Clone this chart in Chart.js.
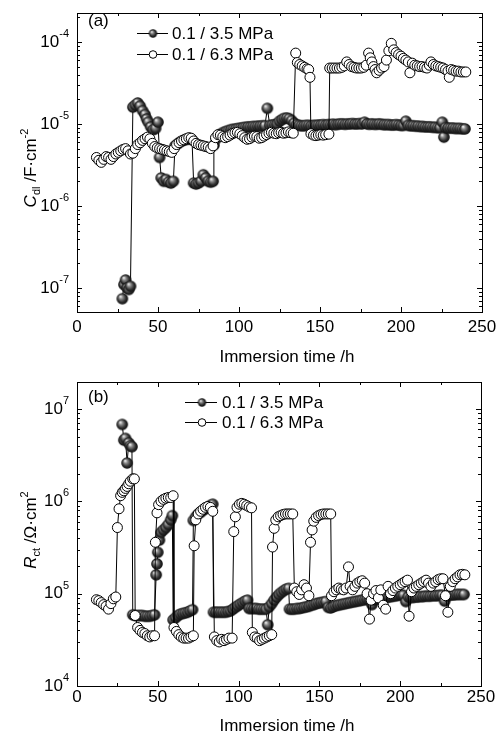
<!DOCTYPE html>
<html>
<head>
<meta charset="utf-8">
<script src="https://cdn.jsdelivr.net/npm/chart.js@4.4.1/dist/chart.umd.min.js"></script>
<style>
  body { margin: 0; background: #fff; }
  #top { position: absolute; left: 0; top: 0; width: 496px; height: 370px; }
  #bot { position: absolute; left: 0; top: 370px; width: 496px; height: 363px; }
</style>
</head>
<body>
<div id="top"><canvas id="cdl"></canvas></div>
<div id="bot"><canvas id="rct"></canvas></div>
<script>
// ---- data (time /h, value) ----
const seriesNames = ['0.1 / 3.5 MPa', '0.1 / 6.3 MPa'];
const xTicks = [0, 50, 100, 150, 200, 250];
const cdlDecades = [-7, -6, -5, -4];
const rctDecades = [4, 5, 6, 7];

// (a) C_dl, F·cm-2
const cdl35 = [[28,7.4e-8],[29,1.1e-7],[30,1.25e-7],[31,1.0e-7],[32,9.6e-8],[33,1.05e-7],
  [34.5,1.6e-5],[36,1.7e-5],[37.5,1.8e-5],[39,1.65e-5],[40.5,1.45e-5],[42,1.3e-5],[43,1.15e-5],[44,1.05e-5],[45.5,9.2e-6],[47,8.5e-6],[48.5,8.8e-6],[50,1.05e-5],
  [51,3.9e-6],[52,2.2e-6],[53.5,2.0e-6],[55,2.1e-6],[56.5,1.95e-6],[58,1.9e-6],[59.5,2.0e-6],
  [60.5,5.4e-6],[62,5.7e-6],[63.5,6.0e-6],[65,6.2e-6],[66.5,6.4e-6],[68,6.5e-6],[69.5,6.6e-6],[71,6.4e-6],
  [72,1.9e-6],[73.5,1.85e-6],[75,1.9e-6],[76.5,2.0e-6],[78,2.4e-6],[79.5,2.2e-6],[81,2.0e-6],[82.5,1.95e-6],[84,2.0e-6],
  [84.5,5.5e-6],[86,6.6e-6],[87.5,7.2e-6],[89,7.6e-6],[90.5,7.9e-6],[92,8.1e-6],[93.5,8.3e-6],[95,8.5e-6],[96.5,8.6e-6],[98,8.7e-6],[99.5,8.8e-6],[101,8.9e-6],[102.5,9.0e-6],[104,9.1e-6],[105.5,9.2e-6],[107,9.2e-6],[108.5,9.3e-6],[110,9.3e-6],[111.5,9.4e-6],[113,9.4e-6],[114.5,9.5e-6],[116,9.5e-6],[117.5,1.55e-5],[119,9.6e-6],[120.5,9.7e-6],[122,9.8e-6],[123.5,1.0e-5],[125,1.08e-5],[126.5,1.13e-5],[128,1.17e-5],[129.5,1.18e-5],[131,1.16e-5],[132.5,1.1e-5],[134,1.02e-5],[135.5,9.8e-6],[137,9.6e-6],[138.5,9.5e-6],[140,9.5e-6],[141.5,9.6e-6],[143,9.6e-6],[144.5,9.5e-6],[146,9.6e-6],[147.5,9.6e-6],[149,9.7e-6],[150.5,9.7e-6],[152,9.8e-6],[153.5,9.7e-6],[155,9.8e-6],[156.5,9.8e-6],[158,9.9e-6],[159.5,9.8e-6],[161,9.9e-6],[162.5,1.0e-5],[164,1.0e-5],[165.5,9.9e-6],[167,1.0e-5],[168.5,1.0e-5],[170,1.01e-5],[171.5,1.0e-5],[173,1.0e-5],[174.5,1.01e-5],[176,1.0e-5],[177.5,1.05e-5],[179,1.0e-5],[180.5,9.9e-6],[182,1.0e-5],[183.5,9.9e-6],[185,9.9e-6],[186.5,1.0e-5],[188,9.9e-6],[189.5,9.8e-6],[191,9.8e-6],[192.5,9.8e-6],[194,9.7e-6],[195.5,9.7e-6],[197,9.8e-6],[198.5,9.7e-6],[200,9.6e-6],[201.5,9.6e-6],[203,1.08e-5],[204.5,9.6e-6],[206,9.5e-6],[207.5,9.5e-6],[209,9.4e-6],[210.5,9.4e-6],[212,9.3e-6],[213.5,9.3e-6],[215,9.2e-6],[216.5,9.2e-6],[218,9.2e-6],[219.5,9.1e-6],[221,9.1e-6],[222.5,9.0e-6],[224,9.0e-6],[225.5,1.05e-5],[226.5,6.9e-6],[227.5,9.0e-6],[229,8.9e-6],[230.5,8.9e-6],[232,8.9e-6],[233.5,8.8e-6],[235,8.8e-6],[236.5,8.8e-6],[238,8.7e-6],[239.5,8.7e-6]];

const cdl63 = [[12,3.9e-6],[13.5,3.6e-6],[15,3.4e-6],[16.5,3.7e-6],[18,4.0e-6],[19.5,3.9e-6],[21,3.7e-6],[22.5,4.0e-6],[24,4.3e-6],[25.5,4.5e-6],[27,4.7e-6],[28.5,4.9e-6],[30,5.0e-6],[31.5,4.7e-6],[33,4.3e-6],[34.5,4.4e-6],[36,5.0e-6],[37.5,5.6e-6],[39,5.9e-6],[40.5,6.3e-6],[42,6.6e-6],[43.5,6.9e-6],[45,6.6e-6],[46.5,5.8e-6],[48,5.3e-6],[49.5,5.1e-6],[51,5.0e-6],[52.5,4.9e-6],[54,4.8e-6],[55.5,4.7e-6],[57,4.6e-6],[58.5,4.5e-6],[60,5.0e-6],[61.5,5.6e-6],[63,5.9e-6],[64.5,6.2e-6],[66,6.4e-6],[67.5,6.6e-6],[69,6.8e-6],[70.5,6.7e-6],[72,6.2e-6],[73.5,5.8e-6],[75,5.6e-6],[76.5,5.5e-6],[78,5.4e-6],[79.5,5.3e-6],[81,5.2e-6],[82.5,5.0e-6],[84,5.4e-6],[85.5,6.8e-6],[87,7.4e-6],[88.5,7.3e-6],[90,7.0e-6],[91.5,6.8e-6],[93,7.0e-6],[94.5,7.3e-6],[96,7.6e-6],[97.5,7.8e-6],[99,7.9e-6],[100.5,7.6e-6],[102,7.2e-6],[103.5,6.8e-6],[105,6.5e-6],[106.5,6.6e-6],[108,6.9e-6],[109.5,7.1e-6],[111,7.0e-6],[112.5,6.7e-6],[114,6.8e-6],[115.5,7.1e-6],[117,7.4e-6],[118.5,7.7e-6],[120,7.9e-6],[121.5,7.7e-6],[123,7.6e-6],[124.5,7.8e-6],[126,7.9e-6],[127.5,7.7e-6],[129,7.8e-6],[130.5,8.0e-6],[132,7.8e-6],[133.5,7.7e-6],
  [135,7.3e-5],[136,5.6e-5],[137.5,5.3e-5],[139,5.1e-5],[140.5,4.9e-5],[142,4.7e-5],[143,4.6e-5],[143.8,3.7e-5],
  [144.4,7.6e-6],[146,7.3e-6],[147.5,7.2e-6],[149,7.3e-6],[150.5,7.4e-6],[152,7.3e-6],[153.5,7.4e-6],[155.5,7.5e-6],
  [156,4.8e-5],[157.5,4.8e-5],[159,4.8e-5],[160.5,4.8e-5],[162,4.8e-5],[163.5,4.9e-5],[165,5.1e-5],[166.5,5.7e-5],[168,5.3e-5],[169.5,5.0e-5],[171,4.9e-5],[172.5,4.8e-5],[174,4.8e-5],[175.5,4.8e-5],[177,4.9e-5],[178.5,5.2e-5],[180,7.3e-5],[181,6.4e-5],[182,5.7e-5],[183,5.0e-5],[184,4.6e-5],[185,4.2e-5],[186.5,4.5e-5],[188,4.8e-5],[189.5,5.0e-5],[191,6.0e-5],[192.5,7.8e-5],[194,9.6e-5],[195.5,8.0e-5],[197,7.4e-5],[198.5,7.0e-5],[200,6.7e-5],[201.5,6.3e-5],[203,6.0e-5],[204.5,5.7e-5],[205.5,4.2e-5],[207,5.5e-5],[208.5,5.2e-5],[210,5.1e-5],[211.5,5.0e-5],[213,5.0e-5],[214.5,4.9e-5],[216,4.8e-5],[217.5,5.2e-5],[218.5,5.7e-5],[220,5.3e-5],[221.5,5.1e-5],[223,5.0e-5],[224.5,4.9e-5],[226,4.8e-5],[227.5,4.6e-5],[229,4.4e-5],[229.8,3.7e-5],[231,4.6e-5],[232.5,4.5e-5],[234,4.4e-5],[235.5,4.4e-5],[237,4.3e-5],[238.5,4.3e-5],[240,4.3e-5]];

// (b) R_ct, Ω·cm2
const rct35 = [[28,6.8e6],[29,4.6e6],[30,4.8e6],[31,2.6e6],[32,4.3e6],[33,4.0e6],[34,3.9e6],
  [34.5,5.9e4],[36,5.8e4],[37.5,5.8e4],[39,5.8e4],[40.5,5.8e4],[42,5.7e4],[43.5,5.7e4],[45,5.7e4],[46.5,5.8e4],[48,5.9e4],
  [49,1.6e5],[49.5,2.1e5],[50,2.8e5],[51,3.8e5],[52,4.6e5],[53.5,4.9e5],[55,5.2e5],[56.5,5.6e5],[58,6.3e5],[59,7.0e5],
  [59.5,5.2e4],[61,5.5e4],[62.5,5.8e4],[64,6.0e4],[65.5,6.1e4],[67,6.2e4],[68.5,6.3e4],[70,6.5e4],[71.5,6.7e4],
  [72,6.2e5],[73.5,6.8e5],[75,7.3e5],[76.5,7.6e5],[78,8.0e5],[79.5,8.3e5],[81,8.6e5],[82.5,9.0e5],[84,9.3e5],
  [84.5,6.3e4],[86,6.3e4],[87.5,6.3e4],[89,6.3e4],[90.5,6.3e4],[92,6.3e4],[93.5,6.4e4],[95,6.5e4],[96.5,6.8e4],[98,7.1e4],[99.5,7.4e4],[101,7.7e4],[102.5,8.0e4],[104,8.3e4],[105.5,8.5e4],
  [106.5,6.9e4],[108,6.9e4],[109.5,6.9e4],[111,6.9e4],[112.5,6.8e4],[114,6.8e4],[115.5,6.8e4],[117,6.8e4],[118,4.6e4],[119,7.2e4],[120.5,7.8e4],[122,8.5e4],[123.5,9.2e4],[125,9.8e4],[126.5,1.03e5],[128,1.08e5],[129.5,1.12e5],[131,1.14e5],
  [131.5,6.8e4],[133,6.8e4],[134.5,6.8e4],[136,6.9e4],[137.5,6.9e4],[139,7.0e4],[140.5,7.1e4],[142,7.2e4],[143.5,7.3e4],[145,7.5e4],[146.5,7.6e4],[148,7.8e4],[149.5,7.9e4],[151,8.0e4],[152.5,8.1e4],[154,8.2e4],
  [155.5,7.1e4],[157,7.0e4],[158.5,7.2e4],[160,7.4e4],[161.5,7.5e4],[163,7.6e4],[164.5,7.7e4],[166,7.8e4],[167.5,7.9e4],[169,8.0e4],[170.5,8.1e4],[172,8.2e4],[173.5,8.3e4],[175,8.4e4],[176.5,8.5e4],[178,8.6e4],[179.5,8.7e4],[181,8.6e4],[182.5,7.6e4],[184,8.6e4],[185.5,8.8e4],[187,8.9e4],[188.5,9.0e4],[190,9.0e4],[191.5,9.1e4],[193,9.2e4],[194.5,9.3e4],[196,9.4e4],[197.5,9.5e4],[199,9.6e4],[200.5,9.7e4],[202,9.6e4],[203.5,8.2e4],[205,9.2e4],[206.5,9.1e4],[208,9.1e4],[209.5,9.2e4],[211,9.2e4],[212.5,9.3e4],[214,9.3e4],[215.5,9.4e4],[217,9.4e4],[218.5,9.4e4],[220,9.5e4],[221.5,9.5e4],[223,9.5e4],[224.5,9.6e4],[226,9.6e4],[227.5,8.3e4],[229,9.5e4],[230.5,9.6e4],[232,9.7e4],[233.5,9.7e4],[235,9.8e4],[236.5,9.8e4],[238,9.8e4],[239.5,9.8e4]];

const rct63 = [[12,8.6e4],[13.5,8.4e4],[15,8.0e4],[16.5,7.6e4],[18,7.3e4],[19.5,6.8e4],[21,7.8e4],[22.5,8.8e4],[24,9.2e4],
  [25,5.2e5],[26,8.3e5],[27,1.15e6],[28,1.25e6],[29,1.3e6],[30,1.38e6],[31,1.45e6],[32,1.55e6],[33,1.65e6],[34.5,1.75e6],[35.5,1.75e6],
  [36,5.8e4],[37.5,4.3e4],[39,4.0e4],[40.5,3.8e4],[42,3.7e4],[43.5,3.5e4],[45,3.4e4],[46.5,3.5e4],[48,3.5e4],
  [48.5,3.6e5],[49.5,7.5e5],[50.5,9.2e5],[52,1.0e6],[53.5,1.05e6],[55,1.08e6],[56.5,1.1e6],[58,1.1e6],[59.5,1.15e6],
  [60,4.3e4],[61.5,3.9e4],[63,3.6e4],[64.5,3.4e4],[66,3.3e4],[67.5,3.3e4],[69,3.3e4],[70.5,3.4e4],[72,3.5e4],
  [72.5,3.3e5],[73.5,6.3e5],[75,7.3e5],[76.5,7.8e5],[78,8.2e5],[79.5,8.6e5],[81,8.8e5],[82.5,8.6e5],[84,7.8e5],
  [85,3.4e4],[86.5,3.1e4],[88,3.0e4],[89.5,3.2e4],[91,3.1e4],[92.5,3.2e4],[94,3.3e4],[96,3.3e4],
  [97,4.7e5],[98,6.8e5],[99,8.6e5],[100.5,9.3e5],[102,9.5e5],[103.5,9.3e5],[105,9.0e5],[106.5,8.7e5],[108,8.5e5],
  [108.5,3.8e4],[110,3.4e4],[111.5,3.3e4],[113,3.1e4],[114.5,3.2e4],[116,3.3e4],[117.5,3.4e4],[119,3.5e4],[120.5,3.6e4],
  [121,3.2e5],[122,5.1e5],[123,6.3e5],[124.5,6.8e5],[126,7.0e5],[127.5,7.2e5],[129,7.3e5],[130.5,7.3e5],[132,7.3e5],[133.5,7.3e5],
  [134.5,1.15e5],[136,1.05e5],[137.5,9.8e4],[139,1.1e5],[140.5,1.25e5],[142,1.15e5],[143.5,9.5e4],
  [144.5,3.6e5],[145.5,4.9e5],[146.5,6.1e5],[148,6.7e5],[149.5,7.0e5],[151,7.2e5],[152.5,7.3e5],[154,7.3e5],[155.5,7.3e5],[157,7.3e5],
  [157.5,9.5e4],[159,1.05e5],[160.5,1.1e5],[162,1.15e5],[163.5,1.12e5],[165,1.1e5],[166.5,1.15e5],[168,1.95e5],[169,1.2e5],[170.5,1.1e5],[172,1.2e5],[173.5,1.3e5],[175,1.35e5],[176.5,1.38e5],[178,1.3e5],[179.5,1.0e5],[181,5.3e4],[182,8.5e4],[183.5,1.0e5],[185,1.08e5],[186.5,9.0e4],[188,1.1e5],[189.5,7.5e4],[191,6.8e4],[192.5,1.2e5],[194,1.0e5],[195.5,1.08e5],[197,1.15e5],[198.5,1.2e5],[200,1.25e5],[201.5,1.3e5],[203,1.35e5],[204.5,1.4e5],[205.5,5.7e4],[207,1.05e5],[208.5,1.15e5],[210,1.2e5],[211.5,1.25e5],[213,1.3e5],[214.5,1.35e5],[216,1.4e5],[217.5,1.3e5],[219,1.2e5],[220.5,1.3e5],[222,1.35e5],[223.5,1.42e5],[225,1.45e5],[226.5,1.45e5],[228,9.5e4],[229.5,6.3e4],[231,1.2e5],[232.5,1.35e5],[234,1.45e5],[235.5,1.52e5],[237,1.6e5],[238.5,1.62e5],[240,1.6e5]];

const FONT = '"Liberation Sans", Arial, sans-serif';

// shaded ball marker, like the filled symbols in the figure
const ball = (r) => {
  const c = document.createElement('canvas');
  const s = Math.ceil(r * 2) + 2;
  c.width = s; c.height = s;
  const g = c.getContext('2d');
  const m = s / 2;
  const grad = g.createRadialGradient(m - r * 0.35, m - r * 0.4, r * 0.05, m, m, r);
  grad.addColorStop(0, '#f2f2f2');
  grad.addColorStop(0.3, '#8a8a8a');
  grad.addColorStop(0.7, '#2e2e2e');
  grad.addColorStop(1, '#0c0c0c');
  g.fillStyle = grad;
  g.beginPath(); g.arc(m, m, r, 0, Math.PI * 2); g.fill();
  return c;
};
const bigBall = ball(5.8);
const smallBall = ball(4.2);

// draw a run of text pieces: [text, font, dy]
const drawRuns = (ctx, runs, x, y, align) => {
  let w = 0;
  runs.forEach(r => { ctx.font = r[1]; w += ctx.measureText(r[0]).width; });
  let cx = align === 'center' ? x - w / 2 : align === 'right' ? x - w : x;
  ctx.textAlign = 'left';
  runs.forEach(r => {
    ctx.font = r[1];
    ctx.fillText(r[0], cx, y + r[2]);
    cx += ctx.measureText(r[0]).width;
  });
};

const axesPlugin = {
  id: 'axes',
  afterDraw(chart, args, o) {
    const { ctx, chartArea: a, scales: { x, y } } = chart;
    ctx.save();
    ctx.strokeStyle = '#000';
    ctx.fillStyle = '#000';
    ctx.lineWidth = 1;
    ctx.strokeRect(a.left + 0.5, a.top + 0.5, a.right - a.left, a.bottom - a.top);

    // inward ticks
    ctx.beginPath();
    for (let i = 0; i < xTicks.length; i++) {
      const mids = i < xTicks.length - 1 ? [xTicks[i], (xTicks[i] + xTicks[i + 1]) / 2] : [xTicks[i]];
      mids.forEach((v, j) => {
        const px = Math.round(x.getPixelForValue(v)) + 0.5;
        const len = j === 0 ? 5 : 3;
        ctx.moveTo(px, a.bottom); ctx.lineTo(px, a.bottom - len);
        ctx.moveTo(px, a.top); ctx.lineTo(px, a.top + len);
      });
    }
    const decs = [o.decades[0] - 1, ...o.decades];
    decs.forEach(d => {
      for (let k = 1; k <= 9; k++) {
        const v = k * Math.pow(10, d);
        if (v < y.min || v > y.max) continue;
        const py = Math.round(y.getPixelForValue(v)) + 0.5;
        const len = k === 1 ? 5 : 3;
        ctx.moveTo(a.left, py); ctx.lineTo(a.left + len, py);
        ctx.moveTo(a.right, py); ctx.lineTo(a.right - len, py);
      }
    });
    ctx.stroke();

    // tick labels
    ctx.textBaseline = 'middle';
    ctx.textAlign = 'center';
    ctx.font = '17px ' + FONT;
    xTicks.forEach(v => ctx.fillText(String(v), x.getPixelForValue(v), a.bottom + o.xLabelOff));
    o.decades.forEach(d => {
      const py = y.getPixelForValue(Math.pow(10, d));
      drawRuns(ctx, [['10', '17px ' + FONT, 0], [String(d), '11px ' + FONT, -8]], a.left - 8, py, 'right');
    });

    // axis titles
    ctx.font = '17px ' + FONT;
    ctx.textAlign = 'center';
    ctx.fillText('Immersion time /h', 287, o.xTitleY);
    ctx.save();
    ctx.translate(o.yTitleX, o.yTitleY);
    ctx.rotate(-Math.PI / 2);
    ctx.textBaseline = 'alphabetic';
    drawRuns(ctx, o.yTitle, 0, 0, 'center');
    ctx.restore();

    // panel tag
    ctx.textBaseline = 'middle';
    ctx.textAlign = 'left';
    ctx.font = '17px ' + FONT;
    ctx.fillText(o.tag, 88, o.tagY);

    // legend
    const L = o.legend;
    [0, 1].forEach(i => {
      const ly = L.y[i];
      ctx.beginPath();
      ctx.moveTo(L.x1, ly + 0.5); ctx.lineTo(L.x2, ly + 0.5);
      ctx.stroke();
      if (i === 0) {
        ctx.drawImage(smallBall, L.mx - smallBall.width / 2, ly - smallBall.height / 2 + 0.5);
      } else {
        ctx.beginPath();
        ctx.arc(L.mx, ly + 0.5, 3.8, 0, Math.PI * 2);
        ctx.fillStyle = '#fff'; ctx.fill();
        ctx.stroke();
        ctx.fillStyle = '#000';
      }
      ctx.font = '17px ' + FONT;
      ctx.textAlign = 'left';
      ctx.fillText(seriesNames[i], L.tx, ly + 1);
    });
    ctx.restore();
  }
};

const toXY = pts => pts.map(p => ({ x: p[0], y: p[1] }));

const filledSet = pts => ({
  label: seriesNames[0],
  data: toXY(pts),
  borderColor: '#000',
  borderWidth: 1,
  pointStyle: bigBall,
  pointRadius: 5.5,
  order: 1
});
const openSet = pts => ({
  label: seriesNames[1],
  data: toXY(pts),
  borderColor: '#000',
  borderWidth: 1,
  pointStyle: 'circle',
  pointRadius: 5,
  pointBackgroundColor: '#fff',
  pointBorderColor: '#000',
  pointBorderWidth: 1,
  order: 0
});

const makeChart = (id, sets, yMin, yMax, pad, deco) => new Chart(document.getElementById(id), {
  type: 'line',
  data: { datasets: sets },
  options: {
    responsive: true,
    maintainAspectRatio: false,
    animation: false,
    layout: { padding: pad },
    scales: {
      x: { type: 'linear', min: 0, max: 250, display: false },
      y: { type: 'logarithmic', min: yMin, max: yMax, display: false }
    },
    plugins: {
      legend: { display: false },
      tooltip: { enabled: false },
      axes: deco
    }
  },
  plugins: [axesPlugin]
});

makeChart('cdl', [filledSet(cdl35), openSet(cdl63)], 5.1e-8, 2.25e-4,
  { left: 77, right: 14, top: 13, bottom: 58 },
  {
    decades: cdlDecades, xLabelOff: 15, xTitleY: 357,
    yTitleX: 36, yTitleY: 168,
    yTitle: [['C', 'italic 17px ' + FONT, 0], ['dl', '11px ' + FONT, 4], [' /F\u00b7cm', '17px ' + FONT, 0], ['-2', '11px ' + FONT, -8]],
    tag: '(a)', tagY: 21,
    legend: { x1: 137, x2: 168, mx: 153, tx: 172, y: [33, 54] }
  });

makeChart('rct', [filledSet(rct35), openSet(rct63)], 1e4, 1.96e7,
  { left: 77, right: 15, top: 12, bottom: 47 },
  {
    decades: rctDecades, xLabelOff: 11, xTitleY: 356,
    yTitleX: 36, yTitleY: 160,
    yTitle: [['R', 'italic 17px ' + FONT, 0], ['ct', '11px ' + FONT, 4], [' /\u03a9\u00b7cm', '17px ' + FONT, 0], ['2', '11px ' + FONT, -8]],
    tag: '(b)', tagY: 27,
    legend: { x1: 185, x2: 217, mx: 202, tx: 222, y: [32, 52] }
  });
</script>
</body>
</html>
